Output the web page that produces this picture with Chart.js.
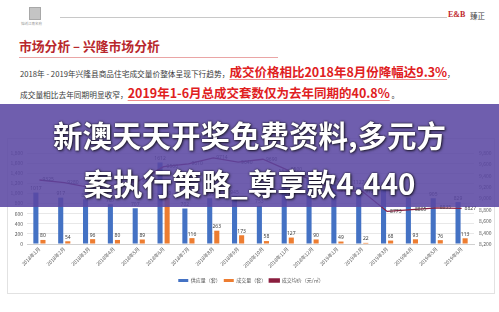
<!DOCTYPE html>
<html>
<head>
<meta charset="utf-8">
<script src="https://cdn.jsdelivr.net/npm/chart.js@4.4.0/dist/chart.umd.min.js"></script>
<style>
  html, body { margin: 0; padding: 0; background: #fff; }
  body { width: 499px; height: 312px; position: relative; overflow: hidden;
         font-family: "Noto Sans CJK SC", "Noto Sans", sans-serif; }
  .abs { position: absolute; white-space: nowrap; }
  .small { font-size: 7.7px; color: #3a3a3a; }
  .hot { font-size: 12.5px; font-weight: bold; color: #e0201e;
         text-decoration: underline; text-decoration-color: #f08a8a;
         text-decoration-thickness: 1px; text-underline-offset: 2px; }
  #veil { left: 0; top: 104px; width: 499px; height: 103px; background: rgba(90, 70, 162, 0.87); }
  .big { left: 0; width: 499px; text-align: center; color: #fff; font-weight: bold;
         font-size: 29.5px; line-height: 34px;
         text-shadow: 0 0 2px rgba(0,0,0,0.85), 1px 1px 3px rgba(0,0,0,0.7); }
  #box { left: 7px; top: 138px; width: 486px; height: 154px; border: 1px solid #e2e2e2; }
</style>
</head>
<body>

<!-- header -->
<div class="abs" style="left:29px;top:7px;width:10px;height:11px;background:#c4c4c4;border:1px solid #a8a8a8;"></div>
<div class="abs" style="left:21px;top:21px;font-size:3.5px;color:#999;">锦绣江南名府</div>
<div class="abs" style="left:60px;top:17px;width:387px;height:1px;background:#c8c8c8;"></div>
<div class="abs" style="left:448px;top:10px;font-size:8px;font-weight:bold;color:#c0282d;font-family:'Liberation Serif',serif;">E&amp;B</div>
<div class="abs" style="left:470px;top:10px;font-size:7.5px;color:#444;">臻正</div>

<div class="abs" style="left:19px;top:37px;font-size:12.8px;line-height:18px;font-weight:bold;color:#b8272c;">市场分析 – 兴隆市场分析</div>
<div class="abs" style="left:19px;top:57px;width:259px;height:1px;background:#eaa5a5;"></div>

<div class="abs" style="left:20px;top:62px;line-height:16px;">
  <span class="small">2018年 - 2019年兴隆县商品住宅成交量价整体呈现下行趋势，</span><span class="hot">成交价格相比2018年8月份降幅达9.3%</span><span class="small">，</span>
</div>
<div class="abs" style="left:20px;top:83px;line-height:16px;">
  <span class="small">成交量相比去年同期明显收窄，</span><span class="hot">2019年1-6月总成交套数仅为去年同期的40.8%</span><span class="small"> 。</span>
</div>

<!-- chart -->
<div class="abs" id="box"><canvas id="c" width="486" height="154"></canvas></div>

<!-- overlay -->
<div class="abs" id="veil"></div>
<div class="abs big" style="top:117px;">新澳天天开奖免费资料,多元方</div>
<div class="abs big" style="top:165px;">案执行策略_尊享款4.440</div>

<script>
const months = [
  "2018年1月", "2018年2月", "2018年3月", "2018年4月", "2018年5月", "2018年6月",
  "2018年7月", "2018年8月", "2018年9月", "2018年10月", "2018年11月", "2018年12月",
  "2019年1月", "2019年2月", "2019年3月", "2019年4月", "2019年5月", "2019年6月"
];
// 供应量（套）
const supply = [1017, 917, 883, 787, 707, 1612, 702, 905, 945, 753, 1346, 1318, 1176, 1127, 1088, 918, 905, 829];
// 成交量（套）
const deals = [80, 54, 96, 80, 89, 910, 116, 263, 173, 58, 127, 90, 49, 22, 68, 93, 76, 113];
// 成交均价（元/㎡）
const avgPrice = [9325, 9280, 9194, 9230, 9310, 9560, 9610, 9714, 9640, 9690, 9500, 9320, 9135, 9127, 8773, 8805, 8835, 8827];

const tinyFont = { family: '"Noto Sans CJK SC", "Noto Sans", sans-serif', size: 5 };

// simple value labels (bars above, line to the right)
const valueLabels = {
  id: "valueLabels",
  afterDatasetsDraw(chart) {
    const ctx = chart.ctx;
    ctx.save();
    ctx.font = '5px "Noto Sans", "Liberation Sans", sans-serif';
    ctx.fillStyle = "#404040";
    chart.data.datasets.forEach((ds, i) => {
      const meta = chart.getDatasetMeta(i);
      meta.data.forEach((el, j) => {
        const v = ds.data[j];
        if (ds.type === "line") {
          ctx.textAlign = "left";
          ctx.textBaseline = "middle";
          ctx.fillText(v, el.x + 3, el.y);
        } else {
          ctx.textAlign = "center";
          ctx.textBaseline = "bottom";
          ctx.fillText(v, el.x, el.y - 1.5);
        }
      });
    });
    ctx.restore();
  }
};

const ctx = document.getElementById("c").getContext("2d");
const chart = new Chart(ctx, {
  data: {
    labels: months,
    datasets: [
      {
        type: "bar",
        label: "供应量（套）",
        data: supply,
        backgroundColor: "#4472c4",
        yAxisID: "y",
        order: 2,
        categoryPercentage: 0.57,
        barPercentage: 0.72,
      },
      {
        type: "bar",
        label: "成交量（套）",
        data: deals,
        backgroundColor: "#ed7d31",
        yAxisID: "y",
        order: 2,
        categoryPercentage: 0.57,
        barPercentage: 0.72,
      },
      {
        type: "line",
        label: "成交均价（元/㎡）",
        data: avgPrice,
        borderColor: "#8b1e3f",
        backgroundColor: "#8b1e3f",
        borderWidth: 1.3,
        pointRadius: 0,
        tension: 0,
        yAxisID: "y1",
        order: 1,
      },
    ],
  },
  options: {
    responsive: false,
    animation: false,
    devicePixelRatio: 1,
    layout: { padding: { top: 14, left: 0, right: 0, bottom: 0 } },
    plugins: {
      tooltip: { enabled: false },
      legend: {
        position: "bottom",
        labels: {
          font: tinyFont,
          color: "#595959",
          boxWidth: 10,
          boxHeight: 3,
          padding: 3,
          sort: (a, b) => a.datasetIndex - b.datasetIndex,
        },
      },
    },
    scales: {
      x: {
        grid: { display: false, drawTicks: false },
        border: { color: "#d0d0d0" },
        ticks: {
          font: tinyFont,
          color: "#595959",
          autoSkip: false,
          minRotation: 45,
          maxRotation: 45,
          padding: 2,
        },
        afterFit: (s) => { s.height = 31; },
      },
      y: {
        position: "left",
        min: 0,
        max: 1800,
        grid: { color: "#e8e8e8", drawTicks: false },
        border: { display: false },
        ticks: { stepSize: 200, font: tinyFont, color: "#595959", padding: 4 },
        afterFit: (s) => { s.width = 19; },
      },
      y1: {
        position: "right",
        min: 8200,
        max: 9800,
        grid: { display: false, drawTicks: false },
        border: { display: false },
        ticks: { stepSize: 200, font: tinyFont, color: "#595959", padding: 5 },
        afterFit: (s) => { s.width = 20; },
      },
    },
  },
  plugins: [valueLabels],
});
</script>
</body>
</html>
